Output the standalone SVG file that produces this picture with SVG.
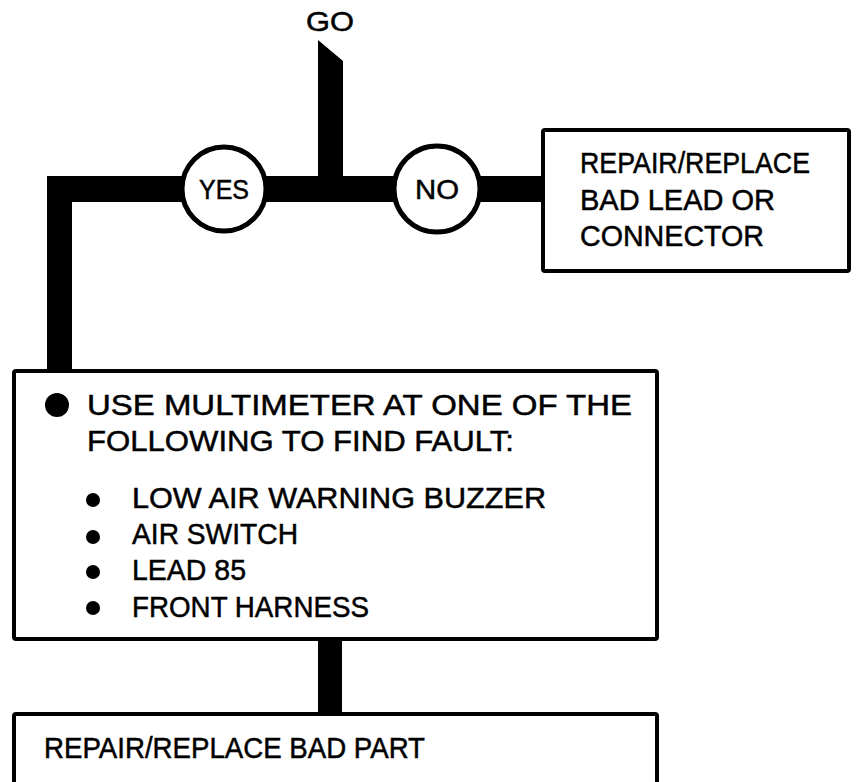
<svg xmlns="http://www.w3.org/2000/svg" width="856" height="782" viewBox="0 0 856 782">
<style>
  text { font-family: "Liberation Sans", Arial, sans-serif; fill: #000; stroke: #000; stroke-width: 0.5; }
  .box { fill: #fff; stroke: #000; stroke-width: 4; }
  .circ { fill: #fff; stroke: #000; stroke-width: 5; }
  .t { font-size: 30px; }
  .ct { font-size: 28px; text-anchor: middle; }
</style>
<rect width="856" height="782" fill="#fff"/>
<g id="connectors" fill="#000">
  <path d="M318 40 L343 61 L343 176 L542 176 L542 202 L72 202 L72 370 L47 370 L47 176 L318 176 Z"/>
  <rect x="318" y="640" width="24" height="73"/>
</g>
<text id="go" x="330" y="31" class="ct" textLength="48" lengthAdjust="spacingAndGlyphs">GO</text>
<g id="yes">
  <circle class="circ" cx="224" cy="189" r="42"/>
  <text x="224" y="199" class="ct" textLength="50" lengthAdjust="spacingAndGlyphs">YES</text>
</g>
<g id="no">
  <circle class="circ" cx="437" cy="189" r="43"/>
  <text x="437" y="199" class="ct" textLength="44" lengthAdjust="spacingAndGlyphs">NO</text>
</g>
<g id="repair-lead">
  <rect class="box" x="543" y="130" width="306" height="141" rx="2"/>
  <text class="t" x="580" y="173" textLength="230" lengthAdjust="spacingAndGlyphs">REPAIR/REPLACE</text>
  <text class="t" x="580" y="210" textLength="195" lengthAdjust="spacingAndGlyphs">BAD LEAD OR</text>
  <text class="t" x="580" y="246" textLength="184" lengthAdjust="spacingAndGlyphs">CONNECTOR</text>
</g>
<g id="multimeter">
  <rect class="box" x="14" y="371" width="643" height="268" rx="2"/>
  <circle cx="57" cy="405" r="12"/>
  <text class="t" x="87" y="415" textLength="545" lengthAdjust="spacingAndGlyphs">USE MULTIMETER AT ONE OF THE</text>
  <text class="t" x="87" y="451" textLength="427" lengthAdjust="spacingAndGlyphs">FOLLOWING TO FIND FAULT:</text>
  <circle cx="93" cy="500" r="7"/>
  <text class="t" x="132" y="508" textLength="414" lengthAdjust="spacingAndGlyphs">LOW AIR WARNING BUZZER</text>
  <circle cx="93" cy="537" r="7"/>
  <text class="t" x="132" y="544" textLength="166" lengthAdjust="spacingAndGlyphs">AIR SWITCH</text>
  <circle cx="93" cy="572" r="7"/>
  <text class="t" x="132" y="580" textLength="114" lengthAdjust="spacingAndGlyphs">LEAD 85</text>
  <circle cx="93" cy="608" r="7"/>
  <text class="t" x="132" y="617" textLength="237" lengthAdjust="spacingAndGlyphs">FRONT HARNESS</text>
</g>
<g id="repair-part">
  <rect class="box" x="14" y="714" width="643" height="80" rx="2"/>
  <text class="t" x="44" y="758" textLength="381" lengthAdjust="spacingAndGlyphs">REPAIR/REPLACE BAD PART</text>
</g>
</svg>
